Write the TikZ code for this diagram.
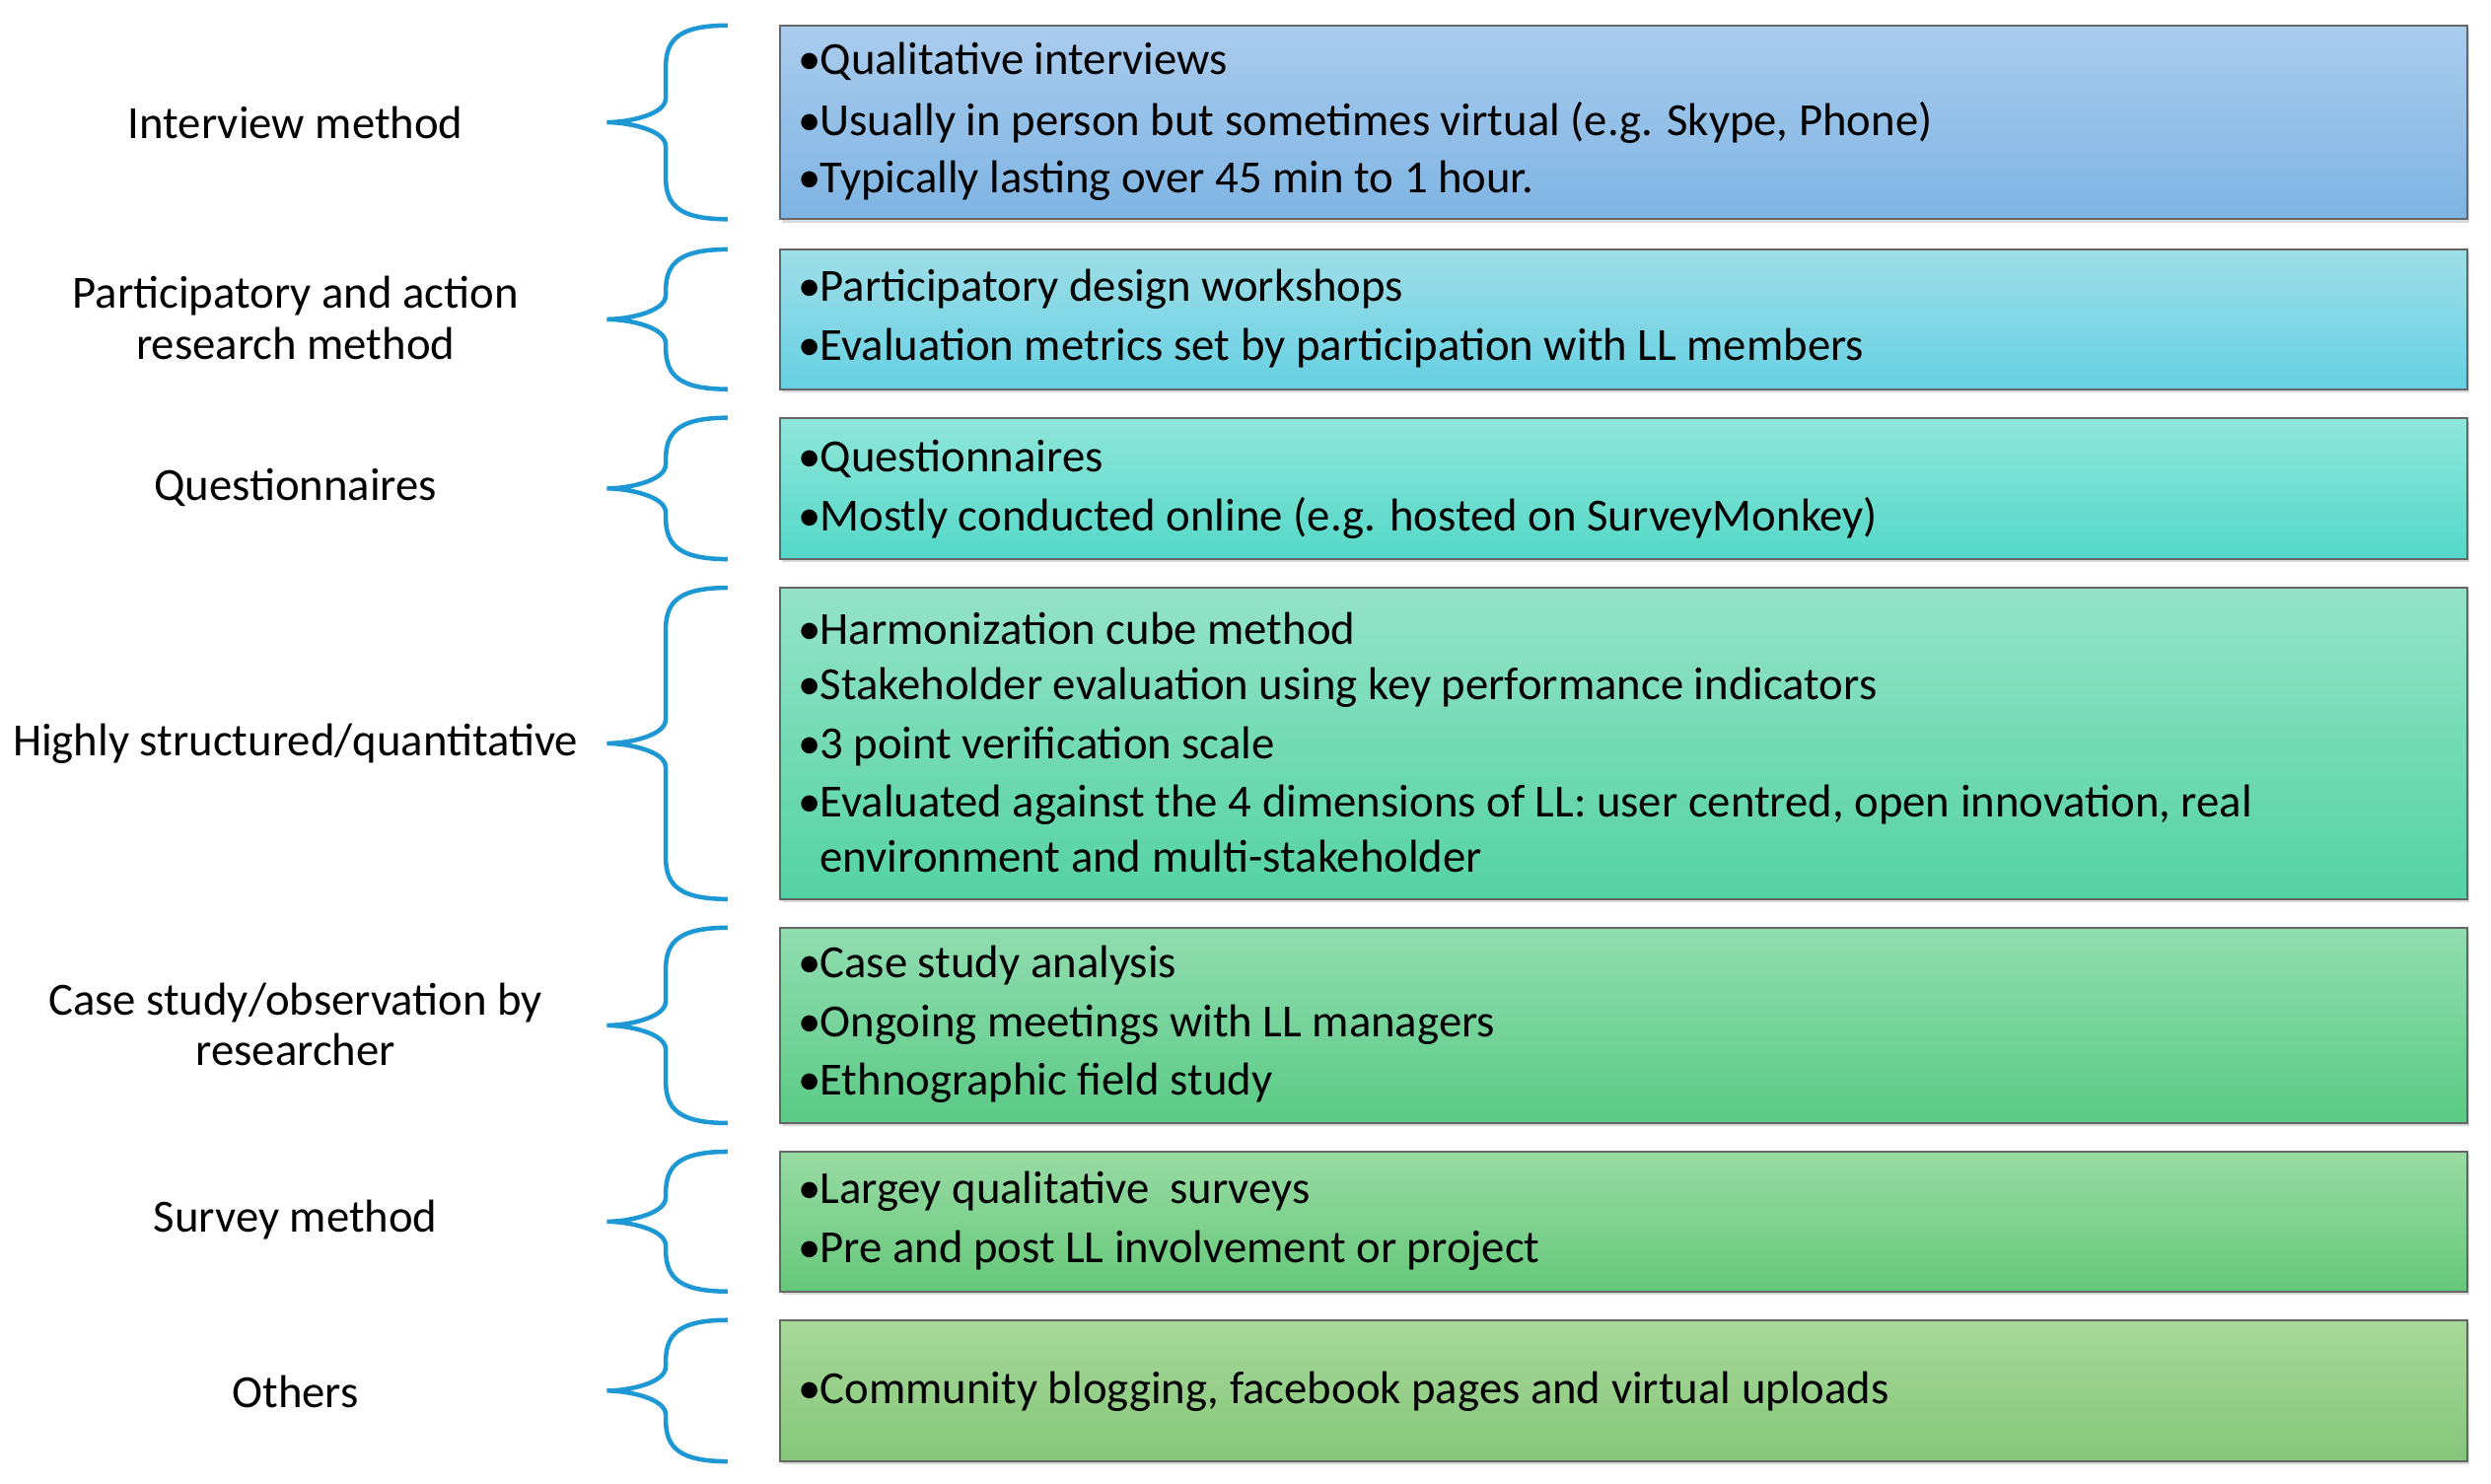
\documentclass[tikz,border=0pt]{standalone}
\usepackage{fontspec}
\setmainfont{Carlito}
\usetikzlibrary{shadows,calc}
\definecolor{brc}{RGB}{30,152,212}
\definecolor{at}{RGB}{170,204,237}\definecolor{ab}{RGB}{126,180,227}
\definecolor{bt}{RGB}{158,222,231}\definecolor{bb}{RGB}{102,208,226}
\definecolor{ct}{RGB}{143,230,218}\definecolor{cb}{RGB}{84,216,200}
\definecolor{dt}{RGB}{148,227,200}\definecolor{db}{RGB}{84,210,165}
\definecolor{et}{RGB}{145,221,176}\definecolor{eb}{RGB}{90,202,133}
\definecolor{ft}{RGB}{153,219,164}\definecolor{fb}{RGB}{101,200,121}
\definecolor{gt}{RGB}{167,216,155}\definecolor{gb}{RGB}{133,198,121}
\newcommand{\bl}{\makebox[14pt][l]{\textbullet}}
\newcommand{\ind}{\hspace*{14pt}}
\begin{document}
\begin{tikzpicture}[x=1pt,y=-1pt,
  lab/.style={align=center,font=\fontsize{29}{32}\selectfont},
  itm/.style={anchor=west,inner sep=0pt,font=\fontsize{29}{32}\selectfont},
  brace/.style={draw=brc,line width=2.8pt}]
\useasboundingbox (0,0) rectangle (1568,934);
\newcommand{\mybox}[5]{%
  \shade[top color=#4,bottom color=#5,draw=gray!80!black,line width=1.2pt,
   drop shadow={shadow xshift=1.5pt,shadow yshift=-2pt,opacity=0.3}]
   (491,#2) rectangle (1553,#3);
  \coordinate (#1nw) at (491,#2); \coordinate (#1sw) at (491,#3);
  \coordinate (#1m) at ($(#1nw)!0.5!(#1sw)$);
  \draw[brace] ($(#1nw)+(-33,0)$) .. controls ($(#1nw)+(-68,0)$) and ($(#1nw)+(-72,12)$) .. ($(#1nw)+(-72,28)$)
     -- ($(#1m)+(-72,-15)$)
     .. controls ($(#1m)+(-72,-5)$) and ($(#1m)+(-95,0)$) .. ($(#1m)+(-109,0)$)
     .. controls ($(#1m)+(-95,0)$) and ($(#1m)+(-72,5)$) .. ($(#1m)+(-72,15)$)
     -- ($(#1sw)+(-72,-28)$) .. controls ($(#1sw)+(-72,-12)$) and ($(#1sw)+(-68,0)$) .. ($(#1sw)+(-33,0)$);}
\mybox{a}{16}{138}{at}{ab}
\mybox{b}{157}{245}{bt}{bb}
\mybox{c}{263}{352}{ct}{cb}
\mybox{d}{370}{566}{dt}{db}
\mybox{e}{584}{707}{et}{eb}
\mybox{f}{725}{813}{ft}{fb}
\mybox{g}{831}{920}{gt}{gb}

\node[lab] (la) at (186,77) {Interview method};
\node[lab] (lb) at (186,200) {Participatory and action\\research method};
\node[lab] (lc) at (186,307) {Questionnaires};
\node[lab] (ld) at (186,468) {Highly structured/quantitative};
\node[lab] (le) at (186,645) {Case study/observation by\\researcher};
\node[lab] (lf) at (186,768) {Survey method};
\node[lab] (lg) at (186,876) {Others};

\node[itm] (a1) at (502,39) {\bl Qualitative interviews};
\node[itm] (a2) at (502,77) {\bl Usually in person but sometimes virtual (e.g. Skype, Phone)};
\node[itm] (a3) at (502,114) {\bl Typically lasting over 45 min to 1 hour.};
\node[itm] (b1) at (502,182) {\bl Participatory design workshops};
\node[itm] (b2) at (502,219) {\bl Evaluation metrics set by participation with LL members};
\node[itm] (c1) at (502,289) {\bl Questionnaires};
\node[itm] (c2) at (502,326) {\bl Mostly conducted online (e.g. hosted on SurveyMonkey)};
\node[itm] (d1) at (502,396) {\bl Harmonization cube method};
\node[itm] (d2) at (502,433) {\bl Stakeholder evaluation using key performance indicators};
\node[itm] (d3) at (502,470) {\bl 3 point verification scale};
\node[itm] (d4) at (502,507) {\bl Evaluated against the 4 dimensions of LL: user centred, open innovation, real};
\node[itm] (d5) at (502,539) {\ind environment and multi-stakeholder};
\node[itm] (e1) at (502,608) {\bl Case study analysis};
\node[itm] (e2) at (502,645) {\bl Ongoing meetings with LL managers};
\node[itm] (e3) at (502,682) {\bl Ethnographic field study};
\node[itm] (f1) at (502,750) {\bl Largey qualitative\ \ surveys};
\node[itm] (f2) at (502,787) {\bl Pre and post LL involvement or project};
\node[itm] (g1) at (502,876) {\bl Community blogging, facebook pages and virtual uploads};
\end{tikzpicture}
\end{document}
